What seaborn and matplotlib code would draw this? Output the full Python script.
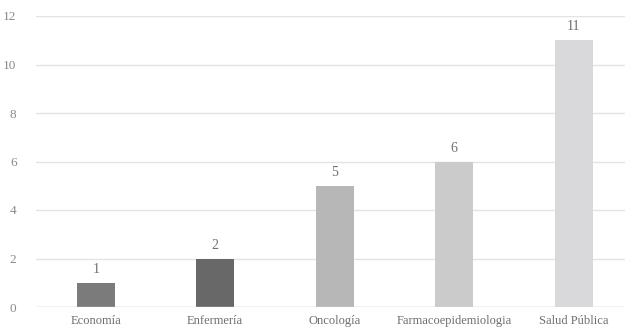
import matplotlib
matplotlib.use("Agg")
import matplotlib.pyplot as plt
import seaborn as sns
import pandas as pd

categories = ["Economía", "Enfermería", "Oncología", "Farmacoepidemiologia", "Salud Pública"]
values = [1, 2, 5, 6, 11]
bar_colors = ["#7b7b7b", "#686868", "#b7b7b7", "#cbcbcb", "#d9d9db"]
y_ticks = [0, 2, 4, 6, 8, 10, 12]

sns.set_theme(style="white")
plt.rcParams["font.family"] = ["Liberation Serif", "DejaVu Serif"]

df = pd.DataFrame({"area": categories, "n": values})

fig = plt.figure(figsize=(6.25, 3.30), dpi=100)
ax = fig.add_axes([36 / 625, 23 / 330, 589 / 625, 291 / 330])

sns.barplot(data=df, x="area", y="n", hue="area", palette=bar_colors,
            width=0.32, legend=False, ax=ax, saturation=1, zorder=3,
            edgecolor="none", linewidth=0)

ax.set_ylim(0, 12)
ax.set_xlim(-0.5, 4.43)
ax.set_yticks(y_ticks)
ax.set_yticklabels([str(t) for t in y_ticks])
ax.yaxis.grid(True, color="#e3e3e3", linewidth=1.0, zorder=0)
ax.set_axisbelow(True)
ax.axhline(0, color="#d9d9d9", linewidth=1.0, zorder=4)

for s in ax.spines.values():
    s.set_visible(False)

ax.set_xlabel("")
ax.set_ylabel("")
ax.tick_params(axis="y", length=0, pad=14, labelsize=9.5, labelcolor="#8a8a8a")
ax.tick_params(axis="x", length=0, pad=6, labelsize=9, labelcolor="#6e6e6e")

for i, v in enumerate(values):
    ax.annotate(str(v), (i, v), xytext=(0, 5), textcoords="offset points",
                ha="center", va="bottom", fontsize=10, color="#707070")

fig.savefig("out.png", dpi=100)
